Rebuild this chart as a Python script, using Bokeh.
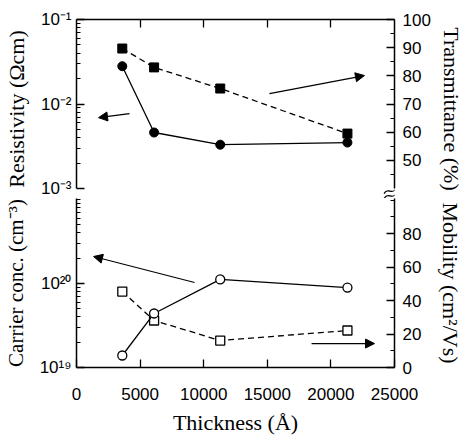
from bokeh.plotting import figure
from bokeh.layouts import column
from bokeh.models import (Range1d, LinearScale, LinearAxis, FixedTicker,
                          CustomJSTickFormatter, Arrow, NormalHead)
from bokeh.embed import file_html
from bokeh.resources import INLINE

# ---------------- data ----------------
thickness = [3600, 6100, 11300, 21300]
resistivity = [0.028, 0.0046, 0.0033, 0.0035]
transmittance = [89.7, 83.0, 75.5, 59.5]
carrier = [1.39e19, 4.4e19, 1.12e20, 8.96e19]
mobility = [45.4, 28.1, 16.1, 22.1]

x_ticks = [0, 5000, 10000, 15000, 20000, 25000]
x_inner_ticks = [5000, 10000, 15000, 20000]
res_ticks = [1e-3, 1e-2, 1e-1]
car_ticks = [1e19, 1e20]
car_top_minor = [1e21]
trans_ticks = [50, 60, 70, 80, 90, 100]
trans_minor = [45, 55, 65, 75, 85, 95]
mob_ticks = [0, 20, 40, 60, 80]
mob_minor = [10, 30, 50, 70, 90, 100]

# annotation positions (data units): arrows (x0, y0, x1, y1) and axis-break mark
arrow_res = (4170, 0.0077, 1730, 0.0069)
arrow_trans = (15170, 73.7, 22640, 80.1)
arrow_car = (9280, 1.03e20, 1340, 2.1e20)
arrow_mob = (18480, 14.3, 23430, 14.3)
break_x = 24650
break_y = [39.1, 37.35]

TICK_FONT = "Liberation Sans"
TITLE_FONT = "Liberation Serif"
TICK_SIZE = "17px"
TITLE_SIZE = "22px"

def minor_log(lo, hi):
    out = []
    e = lo
    while e < hi:
        out += [k * 10.0 ** e for k in range(2, 10)]
        e += 1
    return out

fmt_code = """
const sup = {"0":"\\u2070","1":"\\u00b9","2":"\\u00b2","3":"\\u00b3","4":"\\u2074",
             "5":"\\u2075","6":"\\u2076","7":"\\u2077","8":"\\u2078","9":"\\u2079","-":"\\u207b"};
const e = Math.round(Math.log10(tick));
return "10" + String(e).split("").map(c => sup[c]).join("");
"""

def style_axis(ax, title=None, label_standoff=5, title_standoff=6, maj=8, mnr=4,
               title_size=TITLE_SIZE):
    ax.axis_line_color = "black"
    ax.axis_line_width = 1.5
    ax.major_tick_line_color = "black"
    ax.minor_tick_line_color = "black"
    ax.major_tick_line_width = 1.3
    ax.minor_tick_line_width = 1.1
    ax.major_tick_in = maj
    ax.major_tick_out = 0
    ax.minor_tick_in = mnr
    ax.minor_tick_out = 0
    ax.major_label_text_font = TICK_FONT
    ax.major_label_text_font_size = TICK_SIZE
    ax.major_label_text_color = "black"
    ax.major_label_standoff = label_standoff
    if title:
        ax.axis_label = title
        ax.axis_label_text_font = TITLE_FONT
        ax.axis_label_text_font_size = title_size
        ax.axis_label_text_font_style = "normal"
        ax.axis_label_text_color = "black"
        ax.axis_label_standoff = title_standoff

def head():
    return NormalHead(size=9, fill_color="black", line_color="black", line_width=1)

# ---------------- top panel ----------------
top = figure(frame_width=318, frame_height=179, y_axis_type="log",
             x_range=Range1d(0, 25000), y_range=Range1d(7.62e-4, 1e-1),
             x_axis_location="above", output_backend="svg", toolbar_location=None,
             min_border_left=75, min_border_right=73, min_border_top=19, min_border_bottom=0,
             background_fill_color="white", border_fill_color="white")
top.outline_line_color = None
top.grid.visible = False
top.extra_y_ranges = {"T": Range1d(36.46, 100)}
top.extra_y_scales = {"T": LinearScale()}

# top frame edge: ticks only, no labels
xa = top.xaxis[0]
xa.ticker = FixedTicker(ticks=x_inner_ticks, minor_ticks=[])
style_axis(xa)
xa.major_label_text_font_size = "0px"
xa.major_label_standoff = 0
xa.major_label_text_alpha = 0

ya = top.yaxis[0]
ya.ticker = FixedTicker(ticks=res_ticks, minor_ticks=minor_log(-3, -1))
ya.formatter = CustomJSTickFormatter(code=fmt_code)
ya.bounds = (1e-3, 1e-1)
style_axis(ya, "Resistivity (\u03a9cm)", label_standoff=5, title_standoff=9, maj=8, mnr=4)

ra = LinearAxis(y_range_name="T", ticker=FixedTicker(ticks=trans_ticks, minor_ticks=trans_minor))
ra.bounds = (40, 100)
style_axis(ra, "Transmittance (%)", label_standoff=8, title_standoff=5, maj=8, mnr=4)
top.add_layout(ra, "right")

top.line(thickness, transmittance, y_range_name="T", line_color="black",
         line_width=1.3, line_dash="6 4")
top.scatter(thickness, transmittance, y_range_name="T", marker="square", size=9,
            fill_color="black", line_color="black")
top.line(thickness, resistivity, line_color="black", line_width=1.3)
top.scatter(thickness, resistivity, marker="circle", size=9,
            fill_color="black", line_color="black")

top.add_layout(Arrow(end=head(), x_start=arrow_res[0], y_start=arrow_res[1],
                     x_end=arrow_res[2], y_end=arrow_res[3], line_width=1.2))
top.add_layout(Arrow(end=head(), x_start=arrow_trans[0], y_start=arrow_trans[1],
                     x_end=arrow_trans[2], y_end=arrow_trans[3], line_width=1.2,
                     y_range_name="T"))

# axis-break mark on the right axis: two small tilde-shaped curves
hw = 470     # half width of a tilde, x units
dy = 0.9     # rise of a tilde, T units
amp = 1.6    # wave amplitude, T units
top.bezier(x0=[break_x - hw] * 2, y0=[b - dy for b in break_y],
           x1=[break_x + hw] * 2, y1=[b + dy for b in break_y],
           cx0=[break_x - hw / 3] * 2, cy0=[b + amp for b in break_y],
           cx1=[break_x + hw / 3] * 2, cy1=[b - amp for b in break_y],
           y_range_name="T", line_color="black", line_width=1.3)

# ---------------- bottom panel ----------------
bot = figure(frame_width=318, frame_height=169, y_axis_type="log",
             x_range=Range1d(0, 25000), y_range=Range1d(1e19, 1.03e21),
             output_backend="svg", toolbar_location=None,
             min_border_left=75, min_border_right=73, min_border_top=0, min_border_bottom=72,
             background_fill_color="white", border_fill_color="white")
bot.outline_line_color = None
bot.grid.visible = False
bot.extra_y_ranges = {"M": Range1d(0, 101)}
bot.extra_y_scales = {"M": LinearScale()}

bx = bot.xaxis[0]
bx.ticker = FixedTicker(ticks=x_ticks, minor_ticks=[])
style_axis(bx, "Thickness (\u00c5)", label_standoff=20, title_standoff=7, maj=8, mnr=0)

by = bot.yaxis[0]
by.ticker = FixedTicker(ticks=car_ticks, minor_ticks=minor_log(19, 21) + car_top_minor)
by.formatter = CustomJSTickFormatter(code=fmt_code)
style_axis(by, "Carrier conc. (cm\u207b\u00b3)", label_standoff=5, title_standoff=9,
           maj=8, mnr=4, title_size="21px")

rb = LinearAxis(y_range_name="M", ticker=FixedTicker(ticks=mob_ticks, minor_ticks=mob_minor))
style_axis(rb, "Mobility (cm\u00b2/Vs)", label_standoff=8, title_standoff=14, maj=8, mnr=4)
bot.add_layout(rb, "right")

bot.line(thickness, mobility, y_range_name="M", line_color="black",
         line_width=1.3, line_dash="6 4")
bot.scatter(thickness, mobility, y_range_name="M", marker="square", size=9,
            fill_color="white", line_color="black", line_width=1.3)
bot.line(thickness, carrier, line_color="black", line_width=1.3)
bot.scatter(thickness, carrier, marker="circle", size=9,
            fill_color="white", line_color="black", line_width=1.3)

bot.add_layout(Arrow(end=head(), x_start=arrow_car[0], y_start=arrow_car[1],
                     x_end=arrow_car[2], y_end=arrow_car[3], line_width=1.2))
bot.add_layout(Arrow(end=head(), x_start=arrow_mob[0], y_start=arrow_mob[1],
                     x_end=arrow_mob[2], y_end=arrow_mob[3], line_width=1.2,
                     y_range_name="M"))

layout = column(top, bot, spacing=0)
open("out.html", "w", encoding="utf-8").write(file_html(layout, INLINE))
